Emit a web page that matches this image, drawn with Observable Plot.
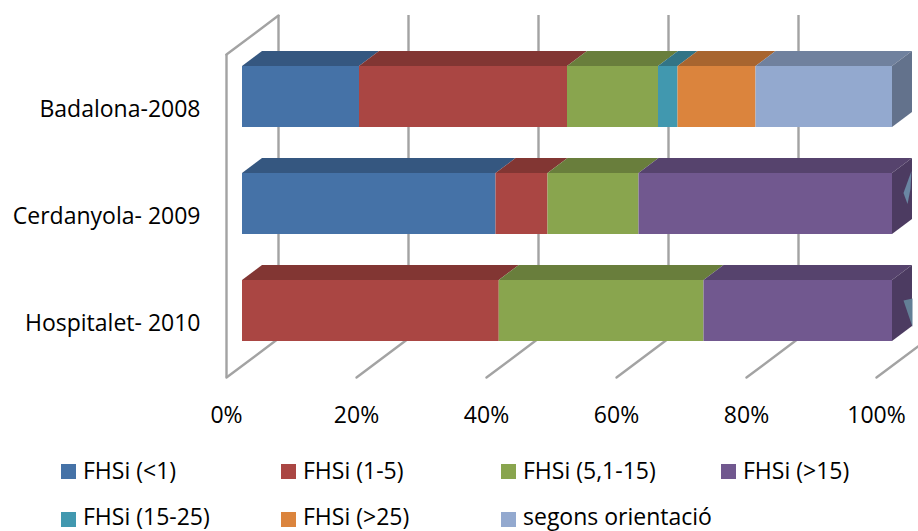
<!DOCTYPE html>
<html lang="ca">
<head>
<meta charset="utf-8">
<script src="https://cdn.jsdelivr.net/npm/d3@7"></script>
<script src="https://cdn.jsdelivr.net/npm/@observablehq/plot@0.6"></script>
<style>
  html, body { margin: 0; background: #fff; overflow: hidden; }
  #legend {
    display: grid;
    grid-template-columns: repeat(4, 220px);
    grid-auto-rows: 48px;
    height: 84px;
    padding-left: 61px;
    font: 23px/1 "Open Sans", sans-serif;
    color: #000;
  }
  #legend div { display: flex; align-items: center; }
  #legend i { width: 15px; height: 15px; margin-right: 7px; display: block; }
  #legend span { position: relative; top: -1px; }
  #legend div:nth-child(n+5) span { top: -3px; }
</style>
</head>
<body>
<div id="chart"></div>
<div id="legend"></div>
<script>
// Share of each FHSi class per survey
const sites = ["Badalona-2008", "Cerdanyola- 2009", "Hospitalet- 2010"];
const seriesNames = ["FHSi (<1)", "FHSi (1-5)", "FHSi (5,1-15)", "FHSi (>15)", "FHSi (15-25)", "FHSi (>25)", "segons orientació"];
const below1 = [18, 39, 0];
const from1to5 = [32, 8, 39.5];
const from5to15 = [14, 14, 31.5];
const above15 = [0, 39, 29];
const from15to25 = [3, 0, 0];
const above25 = [12, 0, 0];
const byOrientation = [21, 0, 0];
const seriesValues = [below1, from1to5, from5to15, above15, from15to25, above25, byOrientation];
const seriesColors = ["#4572a7", "#aa4643", "#89a54e", "#71588f", "#4198af", "#db843d", "#93a9cf"];
const percentTicks = [0, 20, 40, 60, 80, 100];

const rows = seriesNames.flatMap((series, i) =>
  sites.map((site, j) => ({site, series, share: seriesValues[i][j]})).filter((d) => d.share > 0)
);

// Oblique projection used for the box sides and the chart walls
const depthX = 20, depthY = 15;
const wallX = 52, wallY = 39, wallFrontX = -16;
const wallStroke = "#a3a3a3";
const wallWidth = 2.4;

function createPath(d, fill) {
  const path = document.createElementNS("http://www.w3.org/2000/svg", "path");
  path.setAttribute("d", d);
  path.setAttribute("fill", fill);
  return path;
}

// Turns each stacked segment into the slanted face on top of it
function topFace(index, scales, values, dimensions, context, next) {
  const g = next(index, scales, values, dimensions, context);
  d3.select(g).selectAll("rect").each(function () {
    const r = d3.select(this);
    const x = +r.attr("x"), y = +r.attr("y"), w = +r.attr("width");
    const d = `M${x},${y}L${x + depthX},${y - depthY}H${x + w + depthX}L${x + w},${y}Z`;
    this.replaceWith(createPath(d, d3.color(r.attr("fill")).darker(0.75).formatHex()));
  });
  return g;
}

// Keeps the last segment of each bar and draws its right-hand end
function endFace(index, scales, values, dimensions, context, next) {
  const g = next(index, scales, values, dimensions, context);
  d3.select(g).selectAll("rect").each(function () {
    const r = d3.select(this);
    const x = +r.attr("x"), y = +r.attr("y"), w = +r.attr("width"), h = +r.attr("height");
    const end = x + w;
    if (Math.abs(end - scales.x(100)) > 1) return this.remove();
    const d = `M${end},${y}L${end + depthX},${y - depthY}V${y + h - depthY}L${end},${y + h}Z`;
    this.replaceWith(createPath(d, d3.color(r.attr("fill")).darker(1.1).formatHex()));
  });
  return g;
}

// A plain stroke for the receding wall edges
const edgeShape = {draw(ctx, l) { ctx.moveTo(0, 0); ctx.lineTo(0, -l); }};
const edgeLength = Math.hypot(wallX, wallY);
const edgeAngle = Math.atan2(wallX, wallY) * 180 / Math.PI;

// Small reflections on the end faces of the two purple bars
const slimGlint = {draw(ctx) {
  ctx.moveTo(19, -33); ctx.lineTo(11, -11); ctx.lineTo(15, 0); ctx.lineTo(18, -15); ctx.closePath();
}};
const wideGlint = {draw(ctx) {
  ctx.moveTo(11, -10.5); ctx.lineTo(20, -12.5); ctx.lineTo(20, 16); ctx.closePath();
}};

const stacked = (render) => Plot.barX(rows, Plot.stackX({
  x: "share", y: "site", fill: "series", render
}));

const chart = Plot.plot({
  width: 918,
  height: 447,
  marginLeft: 242,
  marginRight: 26,
  marginTop: 15,
  marginBottom: 70,
  style: {fontFamily: "'Open Sans', sans-serif", fontSize: "23px", color: "#000", background: "#fff", overflow: "hidden"},
  x: {domain: [0, 100], label: null},
  y: {domain: sites, range: [20, 387], padding: 0.43, round: false, label: null},
  color: {domain: seriesNames, range: seriesColors},
  marks: [
    // back wall, side wall and floor
    Plot.ruleX(percentTicks, {x: (d) => d, dx: wallFrontX + wallX, insetBottom: wallY, stroke: wallStroke, strokeWidth: wallWidth}),
    Plot.ruleX([0], {x: (d) => d, dx: wallFrontX, insetTop: wallY, stroke: wallStroke, strokeWidth: wallWidth}),
    Plot.vector(percentTicks, {
      x: (d) => d, frameAnchor: "bottom", dx: wallFrontX,
      length: edgeLength, rotate: edgeAngle, anchor: "start", shape: edgeShape,
      stroke: wallStroke, strokeWidth: wallWidth
    }),
    Plot.vector([0], {
      x: (d) => d, frameAnchor: "top", dx: wallFrontX, dy: wallY,
      length: edgeLength, rotate: edgeAngle, anchor: "start", shape: edgeShape,
      stroke: wallStroke, strokeWidth: wallWidth
    }),
    // stacked boxes
    stacked(topFace),
    stacked(endFace),
    stacked(),
    Plot.vector([sites[1]], {x: () => 100, y: (d) => d, length: 1, rotate: 0, anchor: "start", shape: slimGlint, fill: "#6a86a3", stroke: "none"}),
    Plot.vector([sites[2]], {x: () => 100, y: (d) => d, length: 1, rotate: 0, anchor: "start", shape: wideGlint, fill: "#637f96", stroke: "none"}),
    Plot.axisY({tickSize: 0, tickPadding: 42, dy: 13, label: null}),
    Plot.axisX(percentTicks, {
      tickSize: 0, tickPadding: 29, dx: wallFrontX, label: null,
      tickFormat: (d) => `${d}%`
    })
  ]
});
document.getElementById("chart").append(chart);
chart.style.display = "block";

const legend = d3.select("#legend");
seriesNames.forEach((name, i) => {
  const item = legend.append("div");
  item.append("i").style("background", seriesColors[i]);
  item.append("span").text(name);
});
</script>
</body>
</html>
